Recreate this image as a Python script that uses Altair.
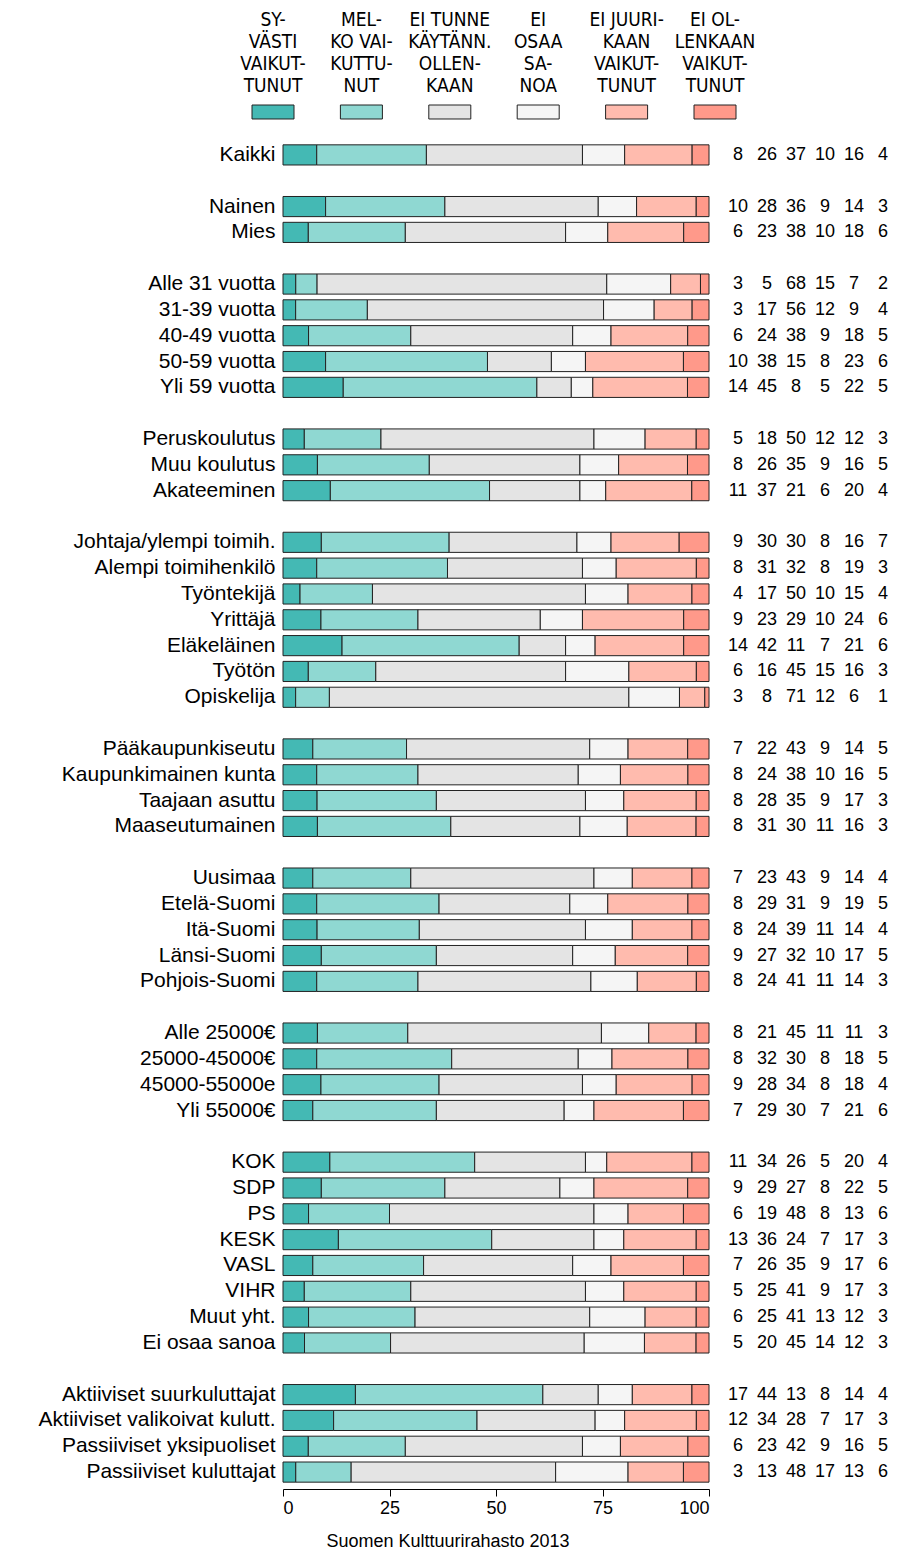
import altair as alt
import pandas as pd

# Response categories (legend order)
categories = ["Syvästi vaikuttunut", "Melko vaikuttunut", "Ei tunne käytännössä ollenkaan",
              "Ei osaa sanoa", "Ei juurikaan vaikuttunut", "Ei ollenkaan vaikuttunut"]
legend_labels = ["SY-\nVÄSTI\nVAIKUT-\nTUNUT", "MEL-\nKO VAI-\nKUTTU-\nNUT",
                 "EI TUNNE\nKÄYTÄNN.\nOLLEN-\nKAAN", "EI\nOSAA\nSA-\nNOA",
                 "EI JUURI-\nKAAN\nVAIKUT-\nTUNUT", "EI OL-\nLENKAAN\nVAIKUT-\nTUNUT"]
colors = ["#44B9B4", "#8FD8D2", "#E4E4E4", "#F5F5F5", "#FFBBAE", "#FF998A"]

# Row groups (a blank row separates groups)
groups = [
    ["Kaikki"],
    ["Nainen", "Mies"],
    ["Alle 31 vuotta", "31-39 vuotta", "40-49 vuotta", "50-59 vuotta", "Yli 59 vuotta"],
    ["Peruskoulutus", "Muu koulutus", "Akateeminen"],
    ["Johtaja/ylempi toimih.", "Alempi toimihenkilö", "Työntekijä", "Yrittäjä",
     "Eläkeläinen", "Työtön", "Opiskelija"],
    ["Pääkaupunkiseutu", "Kaupunkimainen kunta", "Taajaan asuttu", "Maaseutumainen"],
    ["Uusimaa", "Etelä-Suomi", "Itä-Suomi", "Länsi-Suomi", "Pohjois-Suomi"],
    ["Alle 25000€", "25000-45000€", "45000-55000e", "Yli 55000€"],
    ["KOK", "SDP", "PS", "KESK", "VASL", "VIHR", "Muut yht.", "Ei osaa sanoa"],
    ["Aktiiviset suurkuluttajat", "Aktiiviset valikoivat kulutt.",
     "Passiiviset yksipuoliset", "Passiiviset kuluttajat"],
]

# Series values (percent), one array per response category, in row order
syvasti = [8, 10, 6, 3, 3, 6, 10, 14, 5, 8, 11, 9, 8, 4, 9, 14, 6, 3, 7, 8, 8, 8,
           7, 8, 8, 9, 8, 8, 8, 9, 7, 11, 9, 6, 13, 7, 5, 6, 5, 17, 12, 6, 3]
melko = [26, 28, 23, 5, 17, 24, 38, 45, 18, 26, 37, 30, 31, 17, 23, 42, 16, 8, 22, 24, 28, 31,
         23, 29, 24, 27, 24, 21, 32, 28, 29, 34, 29, 19, 36, 26, 25, 25, 20, 44, 34, 23, 13]
ei_tunne = [37, 36, 38, 68, 56, 38, 15, 8, 50, 35, 21, 30, 32, 50, 29, 11, 45, 71, 43, 38, 35, 30,
            43, 31, 39, 32, 41, 45, 30, 34, 30, 26, 27, 48, 24, 35, 41, 41, 45, 13, 28, 42, 48]
ei_osaa = [10, 9, 10, 15, 12, 9, 8, 5, 12, 9, 6, 8, 8, 10, 10, 7, 15, 12, 9, 10, 9, 11,
           9, 9, 11, 10, 11, 11, 8, 8, 7, 5, 8, 8, 7, 9, 9, 13, 14, 8, 7, 9, 17]
ei_juurikaan = [16, 14, 18, 7, 9, 18, 23, 22, 12, 16, 20, 16, 19, 15, 24, 21, 16, 6, 14, 16, 17, 16,
                14, 19, 14, 17, 14, 11, 18, 18, 21, 20, 22, 13, 17, 17, 17, 12, 12, 14, 17, 16, 13]
ei_ollenkaan = [4, 3, 6, 2, 4, 5, 6, 5, 3, 5, 4, 7, 3, 4, 6, 6, 3, 1, 5, 5, 3, 3,
                4, 5, 4, 5, 3, 3, 5, 4, 6, 4, 5, 6, 3, 6, 3, 3, 3, 4, 3, 5, 6]

series = [syvasti, melko, ei_tunne, ei_osaa, ei_juurikaan, ei_ollenkaan]

# Build row domain with blank separator rows
labels = []
domain = []
for gi, g in enumerate(groups):
    if gi > 0:
        domain.append(" " * gi)
    for lab in g:
        domain.append(lab)
        labels.append(lab)

records = []
for ri, lab in enumerate(labels):
    for ci, cat in enumerate(categories):
        records.append({"row": lab, "cat": cat, "idx": ci, "value": series[ci][ri]})
df = pd.DataFrame(records)
leg = pd.DataFrame({"cat": categories, "text": legend_labels})

FONT = "Liberation Sans, Arial, sans-serif"
NARROW = "Liberation Sans Narrow, Arial Narrow, DejaVu Sans Condensed, sans-serif"

color_scale = alt.Scale(domain=categories, range=colors)
y_enc = alt.Y("row:N", scale=alt.Scale(domain=domain, paddingInner=0.22, paddingOuter=0.11),
              axis=alt.Axis(title=None, domain=False, ticks=False, labelFontSize=21,
                            labelFont=FONT, labelColor="black", labelPadding=8,
                            labelLimit=500))

bars = alt.Chart(df).mark_bar(stroke="#222222", strokeWidth=1, opacity=1).encode(
    x=alt.X("value:Q", stack="normalize",
            scale=alt.Scale(domain=[0, 1], nice=False),
            axis=alt.Axis(title=None, values=[0, 0.25, 0.5, 0.75, 1],
                          labelExpr="format(datum.value*100, 'd')", grid=False,
                          offset=4, tickSize=7, domainColor="black", tickColor="black",
                          labelFontSize=18, labelFont=FONT, labelColor="black",
                          labelPadding=3)),
    y=y_enc,
    color=alt.Color("cat:N", scale=color_scale, legend=None),
    order=alt.Order("idx:Q"),
)

nums = alt.Chart(df).mark_text(fontSize=18, font=FONT, color="black",
                               align="center", baseline="middle").encode(
    x=alt.X("cat:N", sort=categories,
            scale=alt.Scale(type="point", range=[455, 600], padding=0), axis=None),
    y=y_enc,
    text=alt.Text("value:Q"),
)

leg_boxes = alt.Chart(leg).mark_point(
    shape="M-1,-0.333L1,-0.333L1,0.333L-1,0.333Z", size=1764, filled=True,
    stroke="#222222", strokeWidth=1, opacity=1).encode(
    x=alt.X("cat:N", sort=categories,
            scale=alt.Scale(type="point", range=[-10, 432], padding=0), axis=None),
    y=alt.value(-30),
    fill=alt.Fill("cat:N", scale=color_scale, legend=None),
)

leg_text = alt.Chart(leg).mark_text(
    font=NARROW, fontSize=19, lineHeight=22, lineBreak="\n", color="black",
    align="center", baseline="alphabetic").encode(
    x=alt.X("cat:N", sort=categories,
            scale=alt.Scale(type="point", range=[-10, 432], padding=0), axis=None),
    y=alt.value(-116.5),
    text="text:N",
)

chart = alt.layer(bars, nums, leg_boxes, leg_text).resolve_scale(
    x="independent"
).properties(
    width=426, height=1343,
    padding={"left": 30, "top": 2, "right": 0, "bottom": 0},
    title=alt.TitleParams("Suomen Kulttuurirahasto 2013", orient="bottom", anchor="middle",
                          frame="bounds", fontSize=18, fontWeight="normal", font=FONT,
                          color="black", offset=16, dx=-15),
).configure_view(stroke=None)

chart.save("out.html", embed_options={"renderer": "svg", "actions": False})
